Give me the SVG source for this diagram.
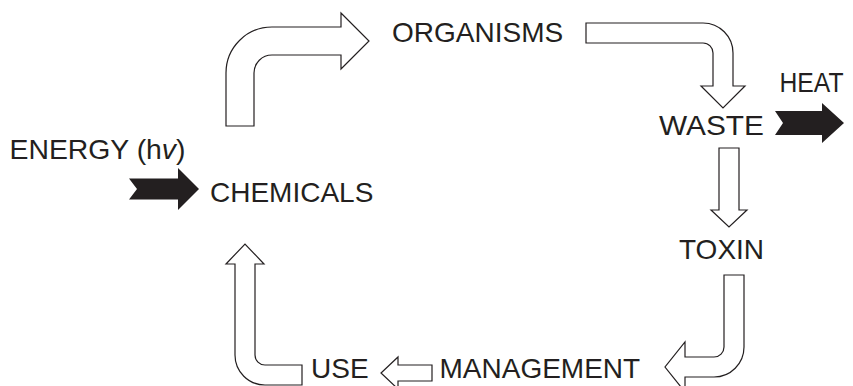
<svg xmlns="http://www.w3.org/2000/svg" width="853" height="386" viewBox="0 0 853 386">
<style>
.lbl{font-family:"Liberation Sans",Arial,sans-serif;font-size:28px;fill:#231f20}
.open{fill:#ffffff;stroke:#231f20;stroke-width:1.2;stroke-linejoin:miter}
.solid{fill:#231f20;stroke:none}
</style>
<rect width="853" height="386" fill="#ffffff"/>
<g id="connectors">
<path id="a-chem-org" class="open" d="M226,126 L226,73 A46,46 0 0 1 272,27 L341,27 L341,13 L369,41 L341,69 L341,55 L272,55 A18,18 0 0 0 254,73 L254,126 Z"/>
<path id="a-org-waste" class="open" d="M586,23 L703,23 A30,30 0 0 1 733,53 L733,86 L745,86 L723,108 L701,86 L713,86 L713,53 A10,10 0 0 0 703,43 L586,43 Z"/>
<path id="a-waste-toxin" class="open" d="M719,148 L739,148 L739,210 L747,210 L729,227 L711,210 L719,210 Z"/>
<path id="a-toxin-mgmt" class="open" d="M724,275 L744,275 L744,347 A30,30 0 0 1 714,377 L685,377 L685,392 L665,367 L685,342 L685,357 L714,357 A10,10 0 0 0 724,347 Z"/>
<path id="a-mgmt-use" class="open" d="M432,365 L432,381 L398,381 L398,389 L381,373 L398,357 L398,365 Z"/>
<path id="a-use-chem" class="open" d="M302,365 L302,385 L265,385 A30,30 0 0 1 235,355 L235,264 L226,264 L245,244 L264,264 L255,264 L255,355 A10,10 0 0 0 265,365 Z"/>
<path id="a-energy" class="solid" d="M129,178.5 L178,178.5 L178,168 L199,189 L178,210 L178,199.5 L129,199.5 L137,189 Z"/>
<path id="a-heat" class="solid" d="M775,111 L822,111 L822,103 L844,123 L822,143 L822,135 L775,135 L783,123 Z"/>
</g>
<g id="energy"><text class="lbl" x="9.5" y="158.5" textLength="176" lengthAdjust="spacingAndGlyphs">ENERGY (h<tspan font-style="italic">v</tspan>)</text></g>
<g id="chemicals"><text class="lbl" x="210" y="201.7">CHEMICALS</text></g>
<g id="organisms"><text class="lbl" x="392" y="41.7">ORGANISMS</text></g>
<g id="waste"><text class="lbl" x="659" y="135" textLength="105" lengthAdjust="spacingAndGlyphs">WASTE</text></g>
<g id="heat"><text class="lbl" x="779.5" y="91.7" textLength="64" lengthAdjust="spacingAndGlyphs">HEAT</text></g>
<g id="toxin"><text class="lbl" x="679" y="259.3">TOXIN</text></g>
<g id="management"><text class="lbl" x="439.5" y="378.3">MANAGEMENT</text></g>
<g id="use"><text class="lbl" x="311" y="378.3">USE</text></g>
</svg>
